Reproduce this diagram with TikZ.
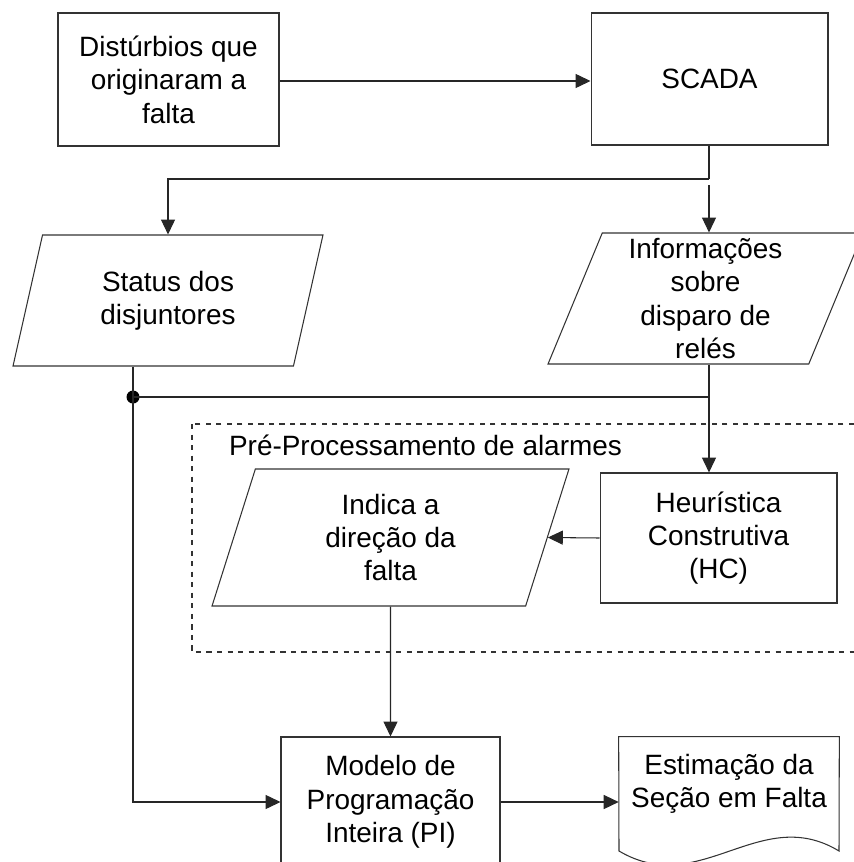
\documentclass[tikz,border=0pt]{standalone}
\usepackage{fontspec}
\setmainfont{Liberation Sans}
\usetikzlibrary{shapes.geometric,arrows.meta}
\begin{document}
\begin{tikzpicture}[x=0.02cm,y=-0.02cm]
	\tikzstyle{Block} = [rectangle, draw=black!80, line width=0.6pt, align=center, inner sep=0pt, font=\fontsize{15.9}{19}\selectfont]
	\tikzstyle{Data} = [trapezium, trapezium stretches body, draw=black!80, line width=0.6pt, align=center, inner sep=0pt, font=\fontsize{15.9}{19}\selectfont]
	\tikzstyle{Flow} = [line width=0.6pt, draw=black!85, -{Triangle[length=8.5pt,width=8pt]}]
	\tikzstyle{Wire} = [line width=0.6pt, draw=black!85]
	\useasboundingbox (0,0) rectangle (854,862);
	% top row
	\node (D) at (168.5,79.5) [Block, minimum width=4.42cm, minimum height=2.66cm] {Distúrbios que\\originaram a\\falta};
	\node (S) at (709.5,79) [Block, minimum width=4.74cm, minimum height=2.64cm] {SCADA};
	% data
	\node (ST) at (168,300.5) [Data, trapezium left angle=63.6, trapezium right angle=116.4, minimum width=6.2cm, minimum height=2.62cm] {Status dos\\disjuntores};
	\node (IR) at (705.5,298.5) [Data, trapezium left angle=65.8, trapezium right angle=114.2, minimum width=6.3cm, minimum height=2.62cm] {Informações\\sobre\\disparo de\\relés};
	% pre-processing
	\draw[dashed, line width=0.6pt, black!80] (192,424) rectangle (880,652);
	\node (PP) at (425.5,445) [font=\fontsize{15.9}{19}\selectfont] {Pré-Processamento de alarmes};
	\node (ID) at (390.5,537.5) [Data, trapezium left angle=63.6, trapezium right angle=116.4, minimum width=7.14cm, minimum height=2.74cm] {Indica a\\direção da\\falta};
	\node (HC) at (718.5,538) [Block, minimum width=4.74cm, minimum height=2.6cm] {Heurística\\Construtiva\\(HC)};
	% bottom row
	\node (PI) at (390.5,802) [Block, minimum width=4.38cm, minimum height=2.6cm] {Modelo de\\Programação\\Inteira (PI)};
	\node (EF) at (729,784) [align=center, inner sep=0pt, minimum width=4.4cm, minimum height=1.88cm, font=\fontsize{15.9}{19}\selectfont] {Estimação da\\Seção em Falta};
	\draw[line width=0.6pt, black!80] (EF.north west) -- (EF.north east) -- (839,851) .. controls (760,803) and (700,899) .. (619,851) -- cycle;
	% junctions
	\coordinate (K) at (709,179);
	\coordinate (G) at (709,185);
	\coordinate (J) at (133,397);
	\fill[black] (J) circle (6.5);
	% connectors
	\draw[Flow] (D.east |- 0,81) -- (S.west |- 0,81);
	\draw[Wire] (S.south -| K) -- (K);
	\draw[Flow] (K) -| (ST.north);
	\draw[Flow] (G) -- (G |- IR.north);
	\draw[Flow] (G |- IR.south) -- (G |- HC.north);
	\draw[Wire] (J |- ST.south) -- (J);
	\draw[Wire] (J) -- (J -| G);
	\draw[Flow] (J) |- (PI.west);
	\draw[Flow] (HC.west) -- (ID.east);
	\draw[Flow] (ID.south) -- (PI.north);
	\draw[Flow] (PI.east) -- (PI.east -| EF.west);
\end{tikzpicture}
\end{document}
